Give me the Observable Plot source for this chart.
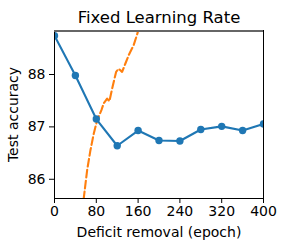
<!DOCTYPE html>
<html>
<head>
<meta charset="utf-8">
<script src="https://cdn.jsdelivr.net/npm/d3@7"></script>
<script src="https://cdn.jsdelivr.net/npm/@observablehq/plot@0.6"></script>
<style>
  html, body { margin: 0; padding: 0; background: #fff; }
</style>
</head>
<body>
<div id="chart"></div>
<script>
const title = "Fixed Learning Rate";
const xLabel = "Deficit removal (epoch)";
const yLabel = "Test accuracy";
const xTicks = [0, 80, 160, 240, 320, 400];
const yTicks = [86, 87, 88];

const epochs = [0, 40, 80, 120, 160, 200, 240, 280, 320, 360, 400];
const accuracy = [88.74, 87.98, 87.15, 86.64, 86.93, 86.74, 86.73, 86.95, 87.01, 86.93, 87.055];

const curveEpochs = [52, 56, 62.5, 68.8, 75.1, 81.6, 89.8, 94.2, 100.7, 105.1, 110.3, 117.9, 122.9, 129.4, 135.7, 142, 151.5, 159.2, 162];
const curveAcc = [85.2, 85.64, 86.175, 86.555, 86.87, 87.125, 87.32, 87.45, 87.54, 87.49, 87.73, 88.05, 88.11, 88.05, 88.21, 88.37, 88.56, 88.8, 88.95];

const baseline = [88.83];

const blue = epochs.map((e, i) => ({epoch: e, acc: accuracy[i]}));
const orange = curveEpochs.map((e, i) => ({epoch: e, acc: curveAcc[i]}));

const chart = Plot.plot({
  width: 286,
  height: 249,
  marginLeft: 54,
  marginRight: 23,
  marginTop: 30,
  marginBottom: 51,
  style: {fontFamily: "DejaVu Sans", fontSize: "14px", background: "#fff", color: "#000"},
  x: {domain: [0, 400]},
  y: {domain: [85.633, 88.84]},
  marks: [
    Plot.axisX({ticks: xTicks, tickFormat: d => String(d), tickSize: 5, tickPadding: 3, fontSize: 14, label: xLabel, labelAnchor: "center", labelArrow: "none", labelOffset: 38}),
    Plot.axisY({ticks: yTicks, tickFormat: d => String(d), tickSize: 5, tickPadding: 4, fontSize: 14, label: yLabel, labelAnchor: "center", labelArrow: "none", labelOffset: 46}),
    Plot.line(orange, {x: "epoch", y: "acc", stroke: "#ff7f0e", strokeWidth: 2.1, strokeDasharray: "7.7,3.3", clip: true}),
    Plot.line(blue, {x: "epoch", y: "acc", stroke: "#1f77b4", strokeWidth: 2.1, clip: true}),
    Plot.dot(blue, {x: "epoch", y: "acc", r: 3.7, fill: "#1f77b4", clip: true}),
    Plot.frame({stroke: "#000", strokeWidth: 1}),
    Plot.ruleY(baseline, {stroke: "#666", strokeWidth: 2.2}),
    Plot.text([title], {frameAnchor: "top", dy: -13, fontSize: 16.5, lineAnchor: "middle"})
  ]
});
document.getElementById("chart").appendChild(chart);
</script>
</body>
</html>
